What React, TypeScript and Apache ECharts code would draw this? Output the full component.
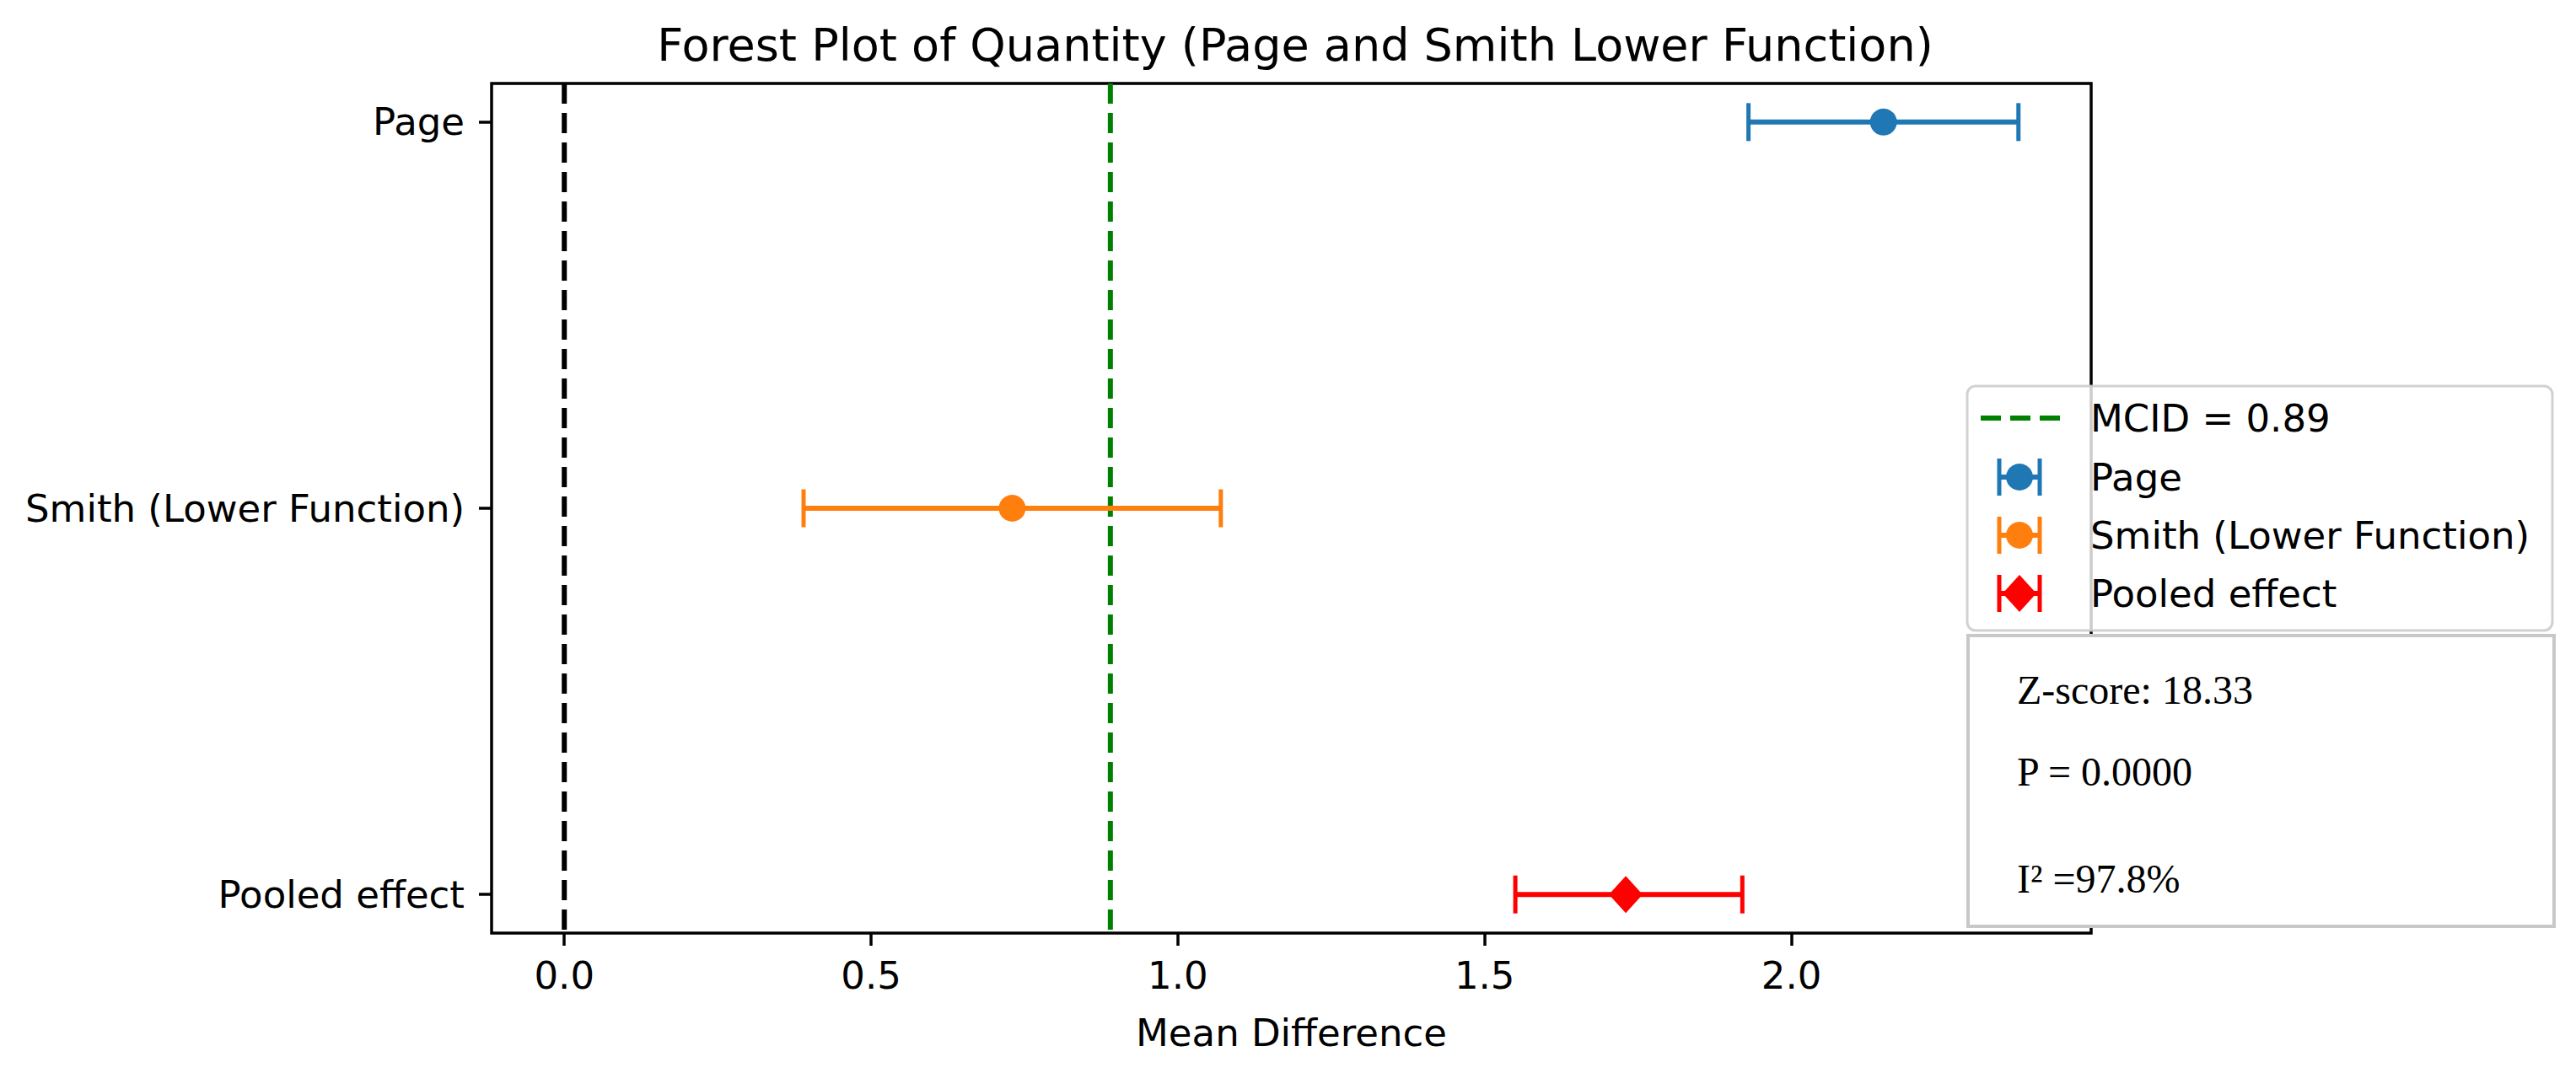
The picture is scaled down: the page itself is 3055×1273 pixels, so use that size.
import React, { useEffect, useRef } from 'react';
import * as echarts from 'echarts';

// ---- data ----
const studies = ['Page', 'Smith (Lower Function)', 'Pooled effect'];
const meanDiff = [2.15, 0.73, 1.73];
const ciLower = [1.93, 0.39, 1.55];
const ciUpper = [2.37, 1.07, 1.92];
const markerShapes = ['circle', 'circle', 'diamond'];
const studyColors = ['#1f77b4', '#ff7f0e', '#ff0000'];
const xTicks = [0, 0.5, 1.0, 1.5, 2.0];
const NULL_EFFECT = 0;
const MCID = 0.89;
const mcidLabel = 'MCID = 0.89';
const statsLines = ['Z-score: 18.33', 'P = 0.0000', 'I\u00B2 =97.8%'];
const titleText = 'Forest Plot of Quantity (Page and Smith Lower Function)';
const xAxisTitle = 'Mean Difference';

const SANS = "'DejaVu Sans', sans-serif";
const SERIF = "'Liberation Serif', 'DejaVu Serif', serif";

export default function App() {
  const ref = useRef<HTMLDivElement>(null);

  useEffect(() => {
    if (!ref.current) return;
    const chart = echarts.init(ref.current, undefined, { renderer: 'svg' });

    const lo = Math.min(NULL_EFFECT, ...ciLower);
    const hi = Math.max(...ciUpper);
    const pad = 0.05 * (hi - lo);
    const xMin = lo - pad;
    const xMax = hi + pad;
    const yMin = -0.1;
    const yMax = studies.length - 1 + 0.1;

    const gridLeft = 583;
    const gridTop = 99;
    const gridRight = 3055 - 2480;
    const gridBottom = 1273 - 1107;

    // legend geometry
    const legX = 2333, legY = 458, legW = 694, legH = 290;
    const rowY = [496, 566, 635, 704];
    const iconCx = 2395;
    const textX = 2479;

    const legendChildren: any[] = [
      {
        type: 'rect',
        shape: { x: legX, y: legY, width: legW, height: legH, r: 10 },
        style: { fill: 'rgba(255,255,255,0.8)', stroke: 'rgba(204,204,204,0.9)', lineWidth: 3 },
      },
      {
        type: 'line',
        shape: { x1: 2349, y1: rowY[0], x2: 2443, y2: rowY[0] },
        style: { stroke: '#008000', lineWidth: 6, lineDash: [24, 11] },
      },
      {
        type: 'text',
        style: { x: textX, y: rowY[0], text: mcidLabel, font: `45px ${SANS}`, fill: '#000', verticalAlign: 'middle', align: 'left' },
      },
    ];
    studies.forEach((name, i) => {
      const cy = rowY[i + 1];
      const color = studyColors[i];
      legendChildren.push(
        { type: 'line', shape: { x1: iconCx - 24, y1: cy, x2: iconCx + 24, y2: cy }, style: { stroke: color, lineWidth: 6 } },
        { type: 'line', shape: { x1: iconCx - 24, y1: cy - 22, x2: iconCx - 24, y2: cy + 22 }, style: { stroke: color, lineWidth: 5 } },
        { type: 'line', shape: { x1: iconCx + 24, y1: cy - 22, x2: iconCx + 24, y2: cy + 22 }, style: { stroke: color, lineWidth: 5 } },
      );
      if (markerShapes[i] === 'diamond') {
        legendChildren.push({
          type: 'polygon',
          shape: { points: [[iconCx, cy - 22], [iconCx + 20, cy], [iconCx, cy + 22], [iconCx - 20, cy]] },
          style: { fill: color },
        });
      } else {
        legendChildren.push({ type: 'circle', shape: { cx: iconCx, cy, r: 16 }, style: { fill: color } });
      }
      legendChildren.push({
        type: 'text',
        style: { x: textX, y: cy, text: name, font: `45px ${SANS}`, fill: '#000', verticalAlign: 'middle', align: 'left' },
      });
    });

    const statsY = [818, 915, 1042];
    const statsChildren: any[] = [
      {
        type: 'rect',
        shape: { x: 2334, y: 754, width: 695, height: 345 },
        style: { fill: '#ffffff', stroke: '#c8c8c8', lineWidth: 4 },
      },
      ...statsLines.map((t, i) => ({
        type: 'text',
        style: { x: 2392, y: statsY[i], text: t, font: `48px ${SERIF}`, fill: '#000', verticalAlign: 'middle', align: 'left' },
      })),
    ];

    const option: any = {
      animation: false,
      backgroundColor: '#ffffff',
      title: {
        text: titleText,
        left: 1531,
        top: 21,
        textAlign: 'center',
        textStyle: { fontFamily: SANS, fontSize: 54, fontWeight: 'normal', color: '#000' },
      },
      grid: {
        left: gridLeft,
        top: gridTop,
        right: gridRight,
        bottom: gridBottom,
        show: true,
        borderColor: '#000',
        borderWidth: 3.5,
        backgroundColor: 'transparent',
        containLabel: false,
      },
      xAxis: {
        type: 'value',
        min: xMin,
        max: xMax,
        name: xAxisTitle,
        nameLocation: 'middle',
        nameGap: 96,
        nameTextStyle: { fontFamily: SANS, fontSize: 45, color: '#000' },
        axisLine: { show: false, onZero: false },
        splitLine: { show: false },
        axisTick: { show: true, customValues: xTicks, length: 15, lineStyle: { color: '#000', width: 3.5 } },
        axisLabel: {
          customValues: xTicks,
          formatter: (v: number) => v.toFixed(1),
          fontFamily: SANS,
          fontSize: 45,
          color: '#000',
          margin: 28,
        },
      },
      yAxis: {
        type: 'value',
        min: yMin,
        max: yMax,
        inverse: true,
        axisLine: { show: false, onZero: false },
        splitLine: { show: false },
        axisTick: { show: true, customValues: studies.map((_, i) => i), length: 15, lineStyle: { color: '#000', width: 3.5 } },
        axisLabel: {
          customValues: studies.map((_, i) => i),
          formatter: (v: number) => studies[Math.round(v)] ?? '',
          fontFamily: SANS,
          fontSize: 45,
          color: '#000',
          margin: 32,
        },
      },
      series: [
        {
          name: 'null line',
          type: 'line',
          data: [[NULL_EFFECT, yMin], [NULL_EFFECT, yMax]],
          symbol: 'none',
          silent: true,
          lineStyle: { color: '#000000', width: 6, type: [24, 11] },
          z: 2,
        },
        {
          name: mcidLabel,
          type: 'line',
          data: [[MCID, yMin], [MCID, yMax]],
          symbol: 'none',
          silent: true,
          lineStyle: { color: '#008000', width: 6, type: [24, 11] },
          z: 2,
        },
        {
          name: 'studies',
          type: 'custom',
          clip: false,
          z: 3,
          data: studies.map((_, i) => [i, meanDiff[i], ciLower[i], ciUpper[i]]),
          encode: { x: [1, 2, 3], y: 0 },
          renderItem: (params: any, api: any) => {
            const i = params.dataIndex;
            const yv = api.value(0);
            const c = api.coord([api.value(1), yv]);
            const l = api.coord([api.value(2), yv]);
            const h = api.coord([api.value(3), yv]);
            const color = studyColors[i];
            const capH = 22.5;
            const children: any[] = [
              { type: 'line', shape: { x1: l[0], y1: l[1], x2: h[0], y2: h[1] }, style: { stroke: color, lineWidth: 6 } },
              { type: 'line', shape: { x1: l[0], y1: l[1] - capH, x2: l[0], y2: l[1] + capH }, style: { stroke: color, lineWidth: 5 } },
              { type: 'line', shape: { x1: h[0], y1: h[1] - capH, x2: h[0], y2: h[1] + capH }, style: { stroke: color, lineWidth: 5 } },
            ];
            if (markerShapes[i] === 'diamond') {
              children.push({
                type: 'polygon',
                shape: { points: [[c[0], c[1] - 22], [c[0] + 20, c[1]], [c[0], c[1] + 22], [c[0] - 20, c[1]]] },
                style: { fill: color },
              });
            } else {
              children.push({ type: 'circle', shape: { cx: c[0], cy: c[1], r: 16 }, style: { fill: color } });
            }
            return { type: 'group', children };
          },
        },
      ],
      graphic: [
        { type: 'group', z: 50, children: legendChildren },
        { type: 'group', z: 60, children: statsChildren },
      ],
    };

    chart.setOption(option);
    return () => chart.dispose();
  }, []);

  return (
    <div
      ref={ref}
      style={{ position: 'fixed', left: 0, top: 0, width: '3055px', height: '1273px', background: '#fff' }}
    />
  );
}
